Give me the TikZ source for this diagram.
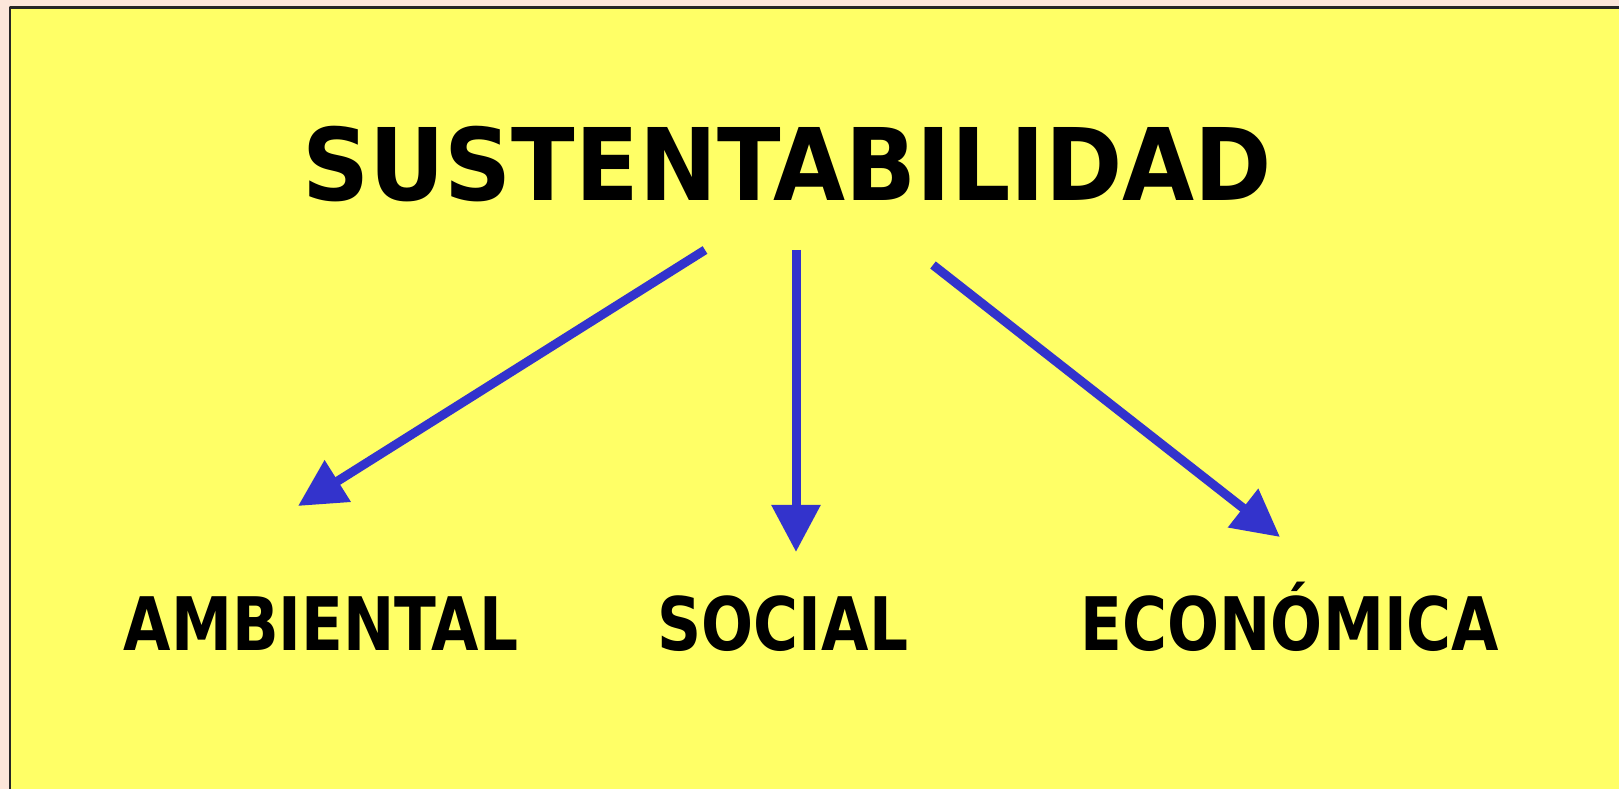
\documentclass[tikz,border=0pt]{standalone}
\usepackage{fontspec}
\usetikzlibrary{arrows.meta}
\newfontfamily\pillarfont{DejaVu Sans}
\definecolor{fondo}{HTML}{FFFF66}
\definecolor{borde}{HTML}{FCE6DA}
\definecolor{flecha}{HTML}{3333CC}
\tikzset{
  titulo/.style={font=\pillarfont\bfseries\fontsize{28.5}{30}\selectfont,anchor=base,xscale=0.93,transform shape},
  pilar/.style={font=\pillarfont\bfseries\fontsize{21}{24}\selectfont,anchor=base,xscale=0.83,transform shape},
  rama/.style={-{Triangle[length=0.47cm,width=0.47cm]},draw=flecha,line width=0.09cm}
}
\begin{document}
\begin{tikzpicture}[line join=round]
			\def\W{16.19} \def\H{7.89}
			\useasboundingbox (0,0) rectangle (\W,-\H);
			\clip (0,0) rectangle (\W,-\H);
			\fill[borde] (0,0) rectangle (\W,-\H);
			\draw[fill=fondo,draw=black!85,line width=0.025cm] (0.10,-0.075) rectangle (\W+0.2,-\H-0.2);
			
			\node[titulo] (sust) at (7.87,-2.01) {SUSTENTABILIDAD};
			\node[pilar] (amb) at (3.21,-6.51) {AMBIENTAL};
			\node[pilar] (soc) at (7.83,-6.51) {SOCIAL};
			\node[pilar] (eco) at (12.90,-6.51) {ECONÓMICA};
			
			\coordinate (s1) at (7.05,-2.50); \coordinate (e1) at (2.98,-5.06);
			\coordinate (s2) at (7.96,-2.50); \coordinate (e2) at (7.96,-5.52);
			\coordinate (s3) at (9.33,-2.65); \coordinate (e3) at (12.80,-5.37);
			\draw[rama] (s1)--(e1);
			\draw[rama] (s2)--(e2);
			\draw[rama] (s3)--(e3);
		\end{tikzpicture}
\end{document}
